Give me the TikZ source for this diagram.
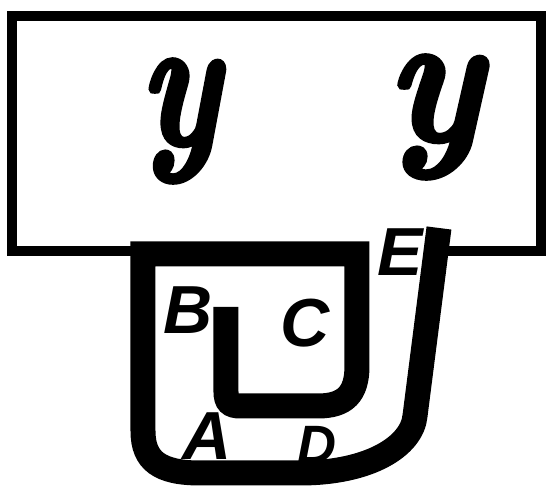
\documentclass[tikz,border=0pt]{standalone}
\usepackage{fontspec}
\newfontfamily\capsfont{Liberation Sans}
\newfontface\yface[FakeBold=2.5, FakeStretch=0.75]{lmroman10-bolditalic.otf}
\newfontface\ywide[FakeBold=2.5, FakeStretch=0.9]{lmroman10-bolditalic.otf}
\usepackage{tikz}
\tikzset{
  frame/.style={line width=5pt, line join=miter},
  band/.style={line width=12.5pt, line join=miter},
  letter/.style={inner sep=0pt, font=\fontsize{34}{34}\capsfont\bfseries\itshape},
  bigy/.style={inner sep=6pt, font=\fontsize{94}{94}\yface}
}

\begin{document}
\begin{tikzpicture}[x=0.5pt,y=0.5pt]
  \useasboundingbox (0,0) rectangle (548,486);
  % corners of the box
  \coordinate (bl) at (12,235);
  \coordinate (tl) at (12,470);
  \coordinate (tr) at (541,470);
  \coordinate (br) at (541,235);
  % corners of the band
  \coordinate (tip) at (226,179);
  \coordinate (itr) at (357,232);
  \coordinate (itl) at (143,232);
  \coordinate (obl) at (143,55);
  \coordinate (end) at (439,258);
  % box, open where the band comes in
  \draw[frame] (itl |- bl) -- (bl) -- (tl) -- (tr) -- (br) -- (436,235);
  % band
  \draw[band] (tip) -- (226,94) .. controls (226,84) and (230,80) .. (240,80)
    -- (318,80) .. controls (345,80) and (357,92) .. (357,120) -- (itr) -- (itl)
    -- (obl) .. controls (143,25) and (160,13) .. (200,13) -- (300,13)
    .. controls (370,13) and (412,40) .. (415,70) -- (end);
  % letters
  \node[bigy] (y1) at (182,365) {y\/};
  \node[bigy, font=\fontsize{94}{94}\ywide] (y2) at (437,369) {y\/};
  \node[letter] (B) at (188,176) {B};
  \node[letter] (C) at (305,163) {C};
  \node[letter] (E) at (400,234) {E};
  \node[letter] (A) at (207,50) {A};
  \node[letter, font=\fontsize{27}{27}\capsfont\bfseries\itshape] (D) at (317,41) {D};
\end{tikzpicture}
\end{document}
